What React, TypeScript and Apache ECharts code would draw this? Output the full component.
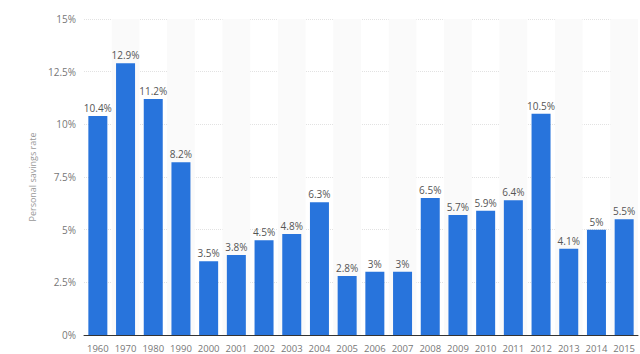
import React, { useEffect, useRef } from "react";
import * as echarts from "echarts";

const years = ["1960","1970","1980","1990","2000","2001","2002","2003","2004","2005","2006","2007","2008","2009","2010","2011","2012","2013","2014","2015"];
const rates = [10.4, 12.9, 11.2, 8.2, 3.5, 3.8, 4.5, 4.8, 6.3, 2.8, 3, 3, 6.5, 5.7, 5.9, 6.4, 10.5, 4.1, 5, 5.5];
const yTicks = [0, 2.5, 5, 7.5, 10, 12.5, 15];

export default function App() {
  const ref = useRef<HTMLDivElement>(null);
  useEffect(() => {
    const chart = echarts.init(ref.current!, null, { renderer: "svg" });
    const font = "Open Sans";
    chart.setOption({
      animation: false,
      grid: { left: 84, right: 2, top: 19, bottom: 19 },
      xAxis: {
        type: "category",
        data: years,
        axisLine: { lineStyle: { color: "#333", width: 1 } },
        axisTick: { show: false },
        axisLabel: { color: "#777", fontFamily: font, fontSize: 9.5, margin: 8, interval: 0 },
        splitArea: { show: true, interval: 0, areaStyle: { color: ["rgba(255,255,255,0)", "#fafafa"] } },
      },
      yAxis: {
        type: "value",
        min: yTicks[0],
        max: yTicks[yTicks.length - 1],
        interval: 2.5,
        name: "Personal savings rate",
        nameLocation: "middle",
        nameGap: 42,
        nameTextStyle: { color: "#999", fontFamily: font, fontSize: 9 },
        axisLine: { show: false },
        axisTick: { show: false },
        axisLabel: { color: "#777", fontFamily: font, fontSize: 10, margin: 8, formatter: (v: number) => v + "%" },
        splitLine: { lineStyle: { color: "#e2e2e2", type: [1, 1] } },
      },
      series: [
        {
          type: "bar",
          data: rates,
          barWidth: 19,
          itemStyle: { color: "#2874dc" },
          label: {
            show: true,
            position: "top",
            distance: 3,
            color: "#555",
            fontFamily: font,
            fontSize: 10,
            formatter: (p: any) => p.value + "%",
          },
        },
      ],
    });
    return () => chart.dispose();
  }, []);
  return <div ref={ref} style={{ width: 640, height: 354, position: "absolute", left: 0, top: 0 }} />;
}
